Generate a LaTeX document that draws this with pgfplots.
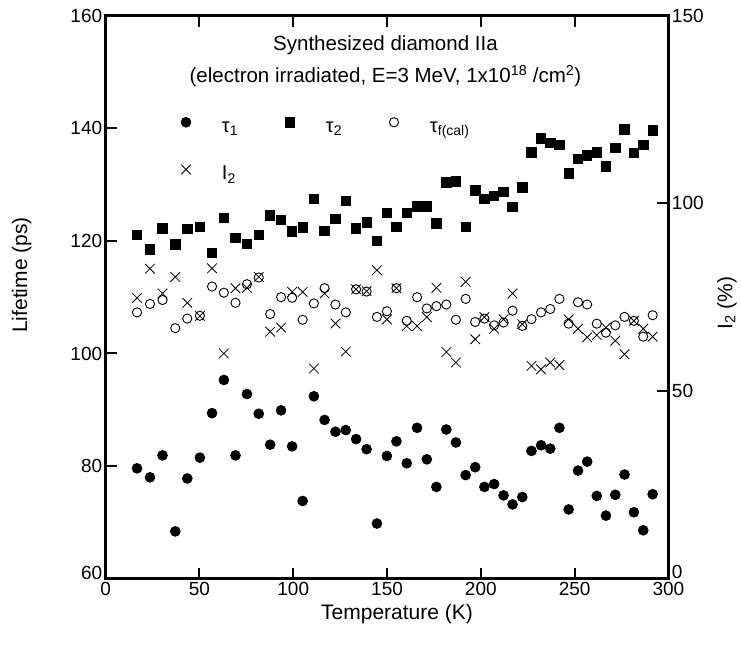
\documentclass[border=0pt]{standalone}
\usepackage{fontspec}
\setmainfont{Liberation Sans}
\usepackage{pgfplots}
\usepackage{pgfplotstable}
\pgfplotsset{compat=1.18}

% T (K), tau1, tau2, tau_f(cal) (ps), I2 (%)
\pgfplotstableread{
T     t1    t2     tf     I2
16.7  79.6  121.1  107.3  74.8
23.6  78.0  118.5  108.8  82.6
30.3  81.9  122.2  109.5  76.0
37.1  68.4  119.4  104.5  80.4
43.5  77.8  122.1  106.2  73.5
50.2  81.5  122.5  106.7  70.0
56.7  89.4  117.9  111.9  82.7
63.0  95.3  124.1  110.8  60.0
69.2  81.9  120.5  109.0  77.4
75.3  92.8  119.5  112.3  77.5
81.6  89.3  121.1  113.5  80.4
87.7  83.8  124.5  107.0  65.8
93.5  89.9  123.7  110.0  66.9
99.4  83.5  121.7  109.9  76.4
105.0 73.8  122.4  106.0  76.4
111.0 92.4  127.5  108.9  56.0
116.7 88.2  121.8  111.6  76.0
122.5 86.1  123.9  108.7  68.0
128.0 86.4  127.1  107.3  60.5
133.5 84.8  122.2  111.4  77.1
139.1 83.0  123.3  111.0  76.6
144.6 69.8  120.0  106.5  82.2
149.9 81.8  125.0  107.5  69.1
155.0 84.4  122.5  111.6  77.4
160.5 80.5  125.0  105.8  67.3
166.0 86.8  126.1  110.0  67.3
171.2 81.2  126.1  108.0  69.7
176.3 76.3  123.1  108.4  77.5
181.6 86.5  130.4  108.7  60.4
186.7 84.2  130.6  106.0  57.6
191.9 78.4  122.5  109.7  79.1
197.0 79.8  129.0  105.6  63.8
201.9 76.3  127.5  106.2  69.7
207.1 76.8  128.0  105.0  66.6
212.1 74.8  128.7  105.5  69.1
216.9 73.2  126.0  107.6  76.0
222.1 74.5  129.5  104.9  67.8
227.0 82.7  135.7  106.1  56.7
232.1 83.7  138.2  107.3  55.8
237.0 83.1  137.4  107.9  57.6
241.9 86.8  137.1  109.7  56.9
246.8 72.3  132.0  105.3  69.1
251.8 79.2  134.6  109.1  66.6
256.7 80.8  135.2  108.7  64.3
261.8 74.7  135.7  105.3  64.9
266.7 71.2  133.2  103.7  66.9
271.7 74.9  136.5  105.0  63.4
276.6 78.5  139.8  106.5  59.8
281.6 71.8  135.6  105.8  68.7
286.6 68.6  137.1  103.0  66.6
291.6 75.0  139.6  106.8  64.5
}\data

\pgfplotsset{
  mystyle/.style={
    scale only axis,
    width=562.7pt, height=563pt,
    xmin=0, xmax=300,
    axis line style={line width=2.6pt},
    tick align=inside,
    major tick length=11pt,
    every tick/.style={black, line width=2pt},
    minor tick num=0,
    tick label style={font=\fontsize{19}{22}\selectfont},
    /pgf/number format/assume math mode=true,
    label style={font=\fontsize{21}{25}\selectfont},
  },
}

\begin{document}
\begin{tikzpicture}
\begin{axis}[
  mystyle,
  ymin=60, ymax=160,
  xtick={0,50,...,300},
  ytick={80,100,...,160},
  extra y ticks={60},
  extra y tick style={yticklabel style={yshift=6pt}},
  xtick pos=both, xticklabel pos=lower,
  ytick pos=left,
  xlabel={Temperature (K)},
  ylabel={Lifetime (ps)},
  xlabel style={at={(axis description cs:0.5177,-0.0627)}, anchor=center},
  ylabel style={at={(axis description cs:-0.1493,0.5394)}, anchor=center, rotate=0},
  legend columns=3,
  legend style={
    draw=none, fill=none, inner sep=0pt, outer sep=0pt,
    at={(axis description cs:0.132,0.8206)}, anchor=north west,
    font=\fontsize{20}{24}\selectfont,
    /tikz/column sep=0pt, /tikz/row sep=21.2pt,
    nodes={inner sep=0pt, text width=62pt, text height=12pt, text depth=10pt, align=left},
  },
  legend image code/.code={
    \path[draw=none, fill=none] (-6pt,3pt) rectangle (36pt,15pt);
    \draw[#1] plot coordinates {(0pt,9.4pt)};
  },
]
\addplot[only marks, mark=*, mark size=4.9pt, mark options={line width=0.8pt, draw=black, fill=black}]
  table[x=T, y=t1] {\data};
\addlegendentry{τ\textsubscript{1}}
\addplot[only marks, mark=square*, mark size=4.7pt, mark options={line width=0.8pt, draw=black, fill=black}]
  table[x=T, y=t2] {\data};
\addlegendentry{τ\textsubscript{2}}
\addplot[only marks, mark=o, mark size=4.6pt, mark options={line width=0.9pt, draw=black}]
  table[x=T, y=tf] {\data};
\addlegendentry{τ\textsubscript{f(cal)}}
\addlegendimage{only marks, mark=x, mark size=6.8pt, mark options={line width=0.8pt, draw=black}}
\addlegendentry{I\textsubscript{2}}

\node[anchor=base, font=\fontsize{20.5}{24}\selectfont] at (axis description cs:0.4972,0.9373)
  {Synthesized diamond IIa};
\node[anchor=base, font=\fontsize{20.5}{24}\selectfont] at (axis description cs:0.4972,0.881)
  {(electron irradiated, E=3 MeV, 1x10\textsuperscript{18} /cm\textsuperscript{2})};
\end{axis}

\begin{axis}[
  mystyle,
  ymin=0, ymax=150,
  ytick={50,100,150},
  extra y ticks={0},
  extra y tick style={yticklabel style={yshift=7pt}},
  hide x axis,
  axis y line*=right,
  ylabel={I\textsubscript{2} (\%)},
  ylabel style={at={(axis description cs:1.104,0.4897)}, anchor=center, rotate=0},
]
\addplot[only marks, mark=x, mark size=6.8pt, mark options={line width=0.8pt, draw=black}]
  table[x=T, y=I2] {\data};
\end{axis}

\pgfresetboundingbox
\path[use as bounding box] ([xshift=-105.7pt,yshift=-71.3pt]current axis.south west)
  rectangle ([xshift=635.3pt,yshift=578.7pt]current axis.south west);
\end{tikzpicture}
\end{document}
